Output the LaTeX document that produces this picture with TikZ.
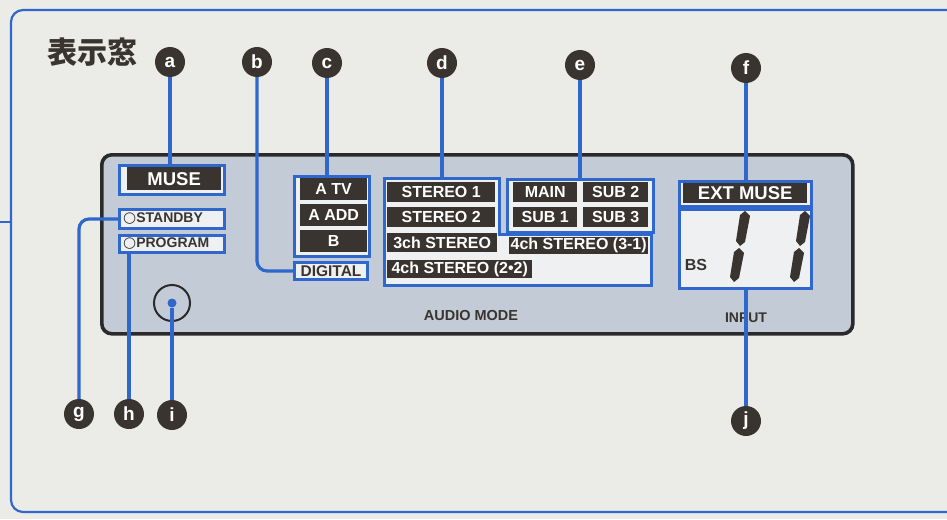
\documentclass[tikz,border=0pt]{standalone}
\usepackage{fontspec}
\setmainfont{Liberation Sans}
\newfontfamily\cjk{Noto Sans CJK JP}
\newfontfamily\dejavu{DejaVu Sans}
\usetikzlibrary{positioning}
\definecolor{ledblue}{HTML}{2F67CC}
\definecolor{lcdink}{HTML}{39342F}
\definecolor{lcdpaper}{HTML}{EEF0F2}
\definecolor{panelbg}{HTML}{C3CBD7}
\definecolor{panelrim}{HTML}{2A2A2A}
\definecolor{pagebg}{HTML}{EBEBE8}
\newcommand{\ptsize}[1]{\fontsize{#1}{#1}\selectfont}
% one slanted "1" of the seven-segment display, #1 = left x
\newcommand{\digitone}[1]{%
  \fill[lcdink] (#1+10,211) -- (#1+15,216) -- (#1+10,242) -- (#1+5,246) -- (#1+1,241) -- (#1+5,215) -- cycle;
  \fill[lcdink] (#1+4,248) -- (#1+9,253) -- (#1+4,278) -- (#1-1,282) -- (#1-5,277) -- (#1-1,252) -- cycle;}

\begin{document}
\begin{tikzpicture}[x=1pt,y=-1pt,
  badge/.style={circle,fill=lcdink,text=white,font=\bfseries\ptsize{19},minimum size=30pt,inner sep=0pt},
  lcdframe/.style={draw=ledblue,line width=3pt,fill=lcdpaper,inner sep=0pt,anchor=north west},
  seg/.style={fill=lcdink,text=white,font=\bfseries\ptsize{16},inner sep=0pt,anchor=north west},
  inktext/.style={text=lcdink,font=\bfseries\ptsize{14},inner sep=0pt},
  lead/.style={draw=ledblue,line width=3.2pt}]
\fill[pagebg] (0,0) rectangle (947,519);
\useasboundingbox (0,0) rectangle (947,519);
% page frame, open to the right
\draw[ledblue,line width=2.2pt,rounded corners=12pt] (947,10) -- (11,10) -- (11,512) -- (947,512);
\draw[ledblue,line width=2.2pt] (0,222) -- (11,222);
\node[text=lcdink,font=\cjk\bfseries\ptsize{30}] (title) at (92,52) {表示窓};
% the display panel
\node[draw=panelrim,line width=3.6pt,fill=panelbg,rounded corners=10pt,
  minimum width=751pt,minimum height=179pt,anchor=north west] (panel) at (100,153) {};
% callout badges
\node[badge] (a) at (170,62) {a};
\node[badge] (b) at (257,62) {b};
\node[badge] (c) at (327,63) {c};
\node[badge] (d) at (442,63) {d};
\node[badge] (e) at (580,65) {e};
\node[badge] (f) at (746,68) {f};
\node[badge] (g) at (79,414) {g};
\node[badge] (h) at (129,414) {h};
\node[badge] (i) at (172,415) {i};
\node[badge] (j) at (746,421) {j};
% left column: MUSE, STANDBY, PROGRAM, knob
\node[lcdframe,minimum width=105pt,minimum height=29pt] (musebox) at (118,164) {};
\node[seg,font=\bfseries\ptsize{18.5},minimum width=94pt,minimum height=23pt] (muse) at (127,167) {MUSE};
\node[lcdframe,minimum width=105pt,minimum height=19pt] (standby) at (118,208) {};
\node[inktext,anchor=west] (standbytxt) at ([xshift=5pt]standby.west) {{\dejavu\mdseries\ptsize{15}○}STANDBY};
\node[lcdframe,minimum width=105pt,minimum height=17pt] (program) at (118,234) {};
\node[inktext,anchor=west] (programtxt) at ([xshift=5pt]program.west) {{\dejavu\mdseries\ptsize{15}○}PROGRAM};
\node[circle,draw=panelrim,line width=2pt,minimum size=36pt] (knob) at (172,303) {};
\node[circle,fill=ledblue,minimum size=9pt,inner sep=0pt] (knobdot) at (knob.center) {};
% input selector group
\node[lcdframe,minimum width=75pt,minimum height=80pt] (cgroup) at (293,175) {};
\node[seg,minimum width=67pt,minimum height=22pt] (atv) at (300,178) {A TV};
\node[seg,minimum width=67pt,minimum height=22pt] (aadd) at (300,204) {A ADD};
\node[seg,minimum width=67pt,minimum height=22pt] (bsel) at (300,230) {B};
\node[lcdframe,minimum width=73pt,minimum height=17pt,text=lcdink,font=\bfseries\ptsize{15.5}] (digital) at (293,261) {DIGITAL};
% audio mode group
\filldraw[ledblue,line width=3pt,fill=lcdpaper] (384,178) -- (499,178) -- (499,234) -- (651,234) -- (651,285) -- (384,285) -- cycle;
\coordinate (dtop) at (442,178);
\node[lcdframe,minimum width=146pt,minimum height=53pt] (egroup) at (506,178) {};
\node[seg,minimum width=108pt,minimum height=20pt] (st1) at (387,182) {STEREO 1};
\node[seg,minimum width=108pt,minimum height=20pt] (st2) at (387,207) {STEREO 2};
\node[seg,minimum width=110pt,minimum height=19pt] (st3) at (387,233) {3ch STEREO};
\node[seg,minimum width=139pt,minimum height=17pt] (st31) at (509,237) {4ch STEREO (3-1)};
\node[seg,minimum width=145pt,minimum height=18pt] (st22) at (387,260) {4ch STEREO (2•2)};
\node[seg,minimum width=64pt,minimum height=20pt] (main) at (513,182) {MAIN};
\node[seg,minimum width=65pt,minimum height=20pt] (sub2) at (583,182) {SUB 2};
\node[seg,minimum width=64pt,minimum height=20pt] (sub1) at (513,207) {SUB 1};
\node[seg,minimum width=65pt,minimum height=20pt] (sub3) at (583,207) {SUB 3};
\node[inktext,font=\bfseries\ptsize{14.5}] (audiomode) at (471,316) {AUDIO MODE};
% input display
\node[lcdframe,minimum width=132pt,minimum height=25pt] (fgroup) at (678,180) {};
\node[seg,font=\bfseries\ptsize{18.5},minimum width=124pt,minimum height=20pt] (extmuse) at (683,183) {EXT MUSE};
\node[lcdframe,minimum width=132pt,minimum height=79pt] (inputbox) at (678,208) {};
\node[inktext,font=\bfseries\ptsize{16}] (bs) at (696,265) {BS};
\digitone{735}
\digitone{795}
\node[inktext,font=\bfseries\ptsize{14}] (input) at (746,318) {INPUT};
% leader lines
\draw[lead] (a) -- (a |- musebox.north);
\draw[lead,rounded corners=10pt] (b) |- (digital.west);
\draw[lead] (c) -- (c |- cgroup.north);
\draw[lead] (d) -- (dtop);
\draw[lead] (e) -- (e |- egroup.north);
\draw[lead] (f) -- (f |- fgroup.north);
\draw[lead,rounded corners=10pt] (g) |- (standby.west);
\draw[lead] (h) -- (h |- program.south);
\draw[lead] (i) -- (knobdot);
\draw[lead] (j) -- (j |- inputbox.south);
\end{tikzpicture}
\end{document}
